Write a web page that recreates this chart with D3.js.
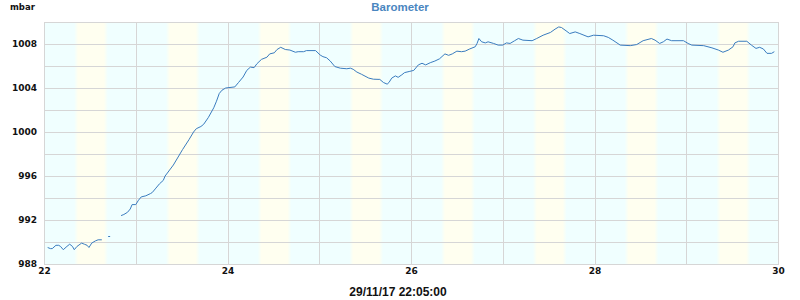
<!DOCTYPE html>
<html>
<head>
<meta charset="utf-8">
<script src="https://cdn.jsdelivr.net/npm/d3@7"></script>
<style>
  body { margin: 0; background: #fff; }
  text { font-family: "DejaVu Sans", sans-serif; }
</style>
</head>
<body>
<div id="chart"></div>
<script>
// time in days of November 2017, pressure in mbar (null = no reading)
const days = [
  22.04, 22.07, 22.09, 22.13, 22.16, 22.18, 22.21, 22.25, 22.28, 22.31, 22.33, 22.36,
  22.41, 22.44, 22.47, 22.49, 22.52, 22.56, 22.59, 22.63,
  22.67,
  22.71,
  22.78,
  22.84, 22.87, 22.91, 22.94, 22.96, 23.00, 23.03, 23.06, 23.11, 23.16, 23.18, 23.22,
  23.26, 23.30, 23.32, 23.41, 23.51, 23.58, 23.63, 23.66, 23.71, 23.74, 23.79, 23.85,
  23.88, 23.91, 23.94, 23.98, 24.08, 24.12, 24.17, 24.21, 24.25, 24.29, 24.32, 24.37,
  24.43, 24.46, 24.51, 24.54, 24.58, 24.63, 24.68, 24.74, 24.77, 24.83, 24.86, 24.96,
  25.01, 25.04, 25.08, 25.12, 25.17, 25.23, 25.30, 25.34, 25.37, 25.41, 25.46, 25.54,
  25.59, 25.66, 25.70, 25.74, 25.76, 25.79, 25.83, 25.86, 25.90, 25.93, 25.98, 26.03,
  26.08, 26.12, 26.16, 26.21, 26.26, 26.31, 26.37, 26.41, 26.45, 26.50, 26.55, 26.59,
  26.64, 26.70, 26.72, 26.74, 26.77, 26.81, 26.84, 26.90, 26.95, 27.00, 27.04, 27.08,
  27.13, 27.17, 27.22, 27.32, 27.37, 27.44, 27.52, 27.57, 27.61, 27.64, 27.69, 27.73,
  27.79, 27.84, 27.93, 27.99, 28.10, 28.15, 28.20, 28.28, 28.39, 28.46, 28.53, 28.62,
  28.66, 28.71, 28.75, 28.79, 28.84, 28.97, 29.02, 29.06, 29.19, 29.28, 29.35, 29.40,
  29.46, 29.51, 29.53, 29.57, 29.66, 29.71, 29.76, 29.80, 29.84, 29.88, 29.93, 29.96
];
const pressure = [
  989.5, 989.4, 989.4, 989.7, 989.7, 989.6, 989.3, 989.6, 989.8, 989.6, 989.3, 989.6,
  989.9, 989.8, 989.7, 989.5, 989.9, 990.1, 990.2, 990.2,
  null,
  990.5,
  null,
  992.4, 992.5, 992.7, 993.0, 993.4, 993.4, 993.8, 994.1, 994.2, 994.4, 994.5, 994.9,
  995.3, 995.6, 996.0, 997.0, 998.4, 999.3, 1000.0, 1000.3, 1000.5, 1000.7, 1001.3, 1002.2,
  1002.8, 1003.5, 1003.8, 1004.0, 1004.1, 1004.5, 1005.0, 1005.6, 1005.9, 1005.85, 1006.2, 1006.6,
  1006.8, 1007.1, 1007.2, 1007.5, 1007.7, 1007.5, 1007.45, 1007.25, 1007.3, 1007.3, 1007.4, 1007.4,
  1007.0, 1006.85, 1006.75, 1006.45, 1005.95, 1005.8, 1005.75, 1005.8, 1005.7, 1005.45, 1005.25, 1004.9,
  1004.8, 1004.78, 1004.5, 1004.35, 1004.5, 1004.9, 1005.1, 1004.97, 1005.2, 1005.4, 1005.5, 1005.6,
  1006.1, 1006.25, 1006.1, 1006.3, 1006.45, 1006.65, 1007.1, 1006.97, 1007.1, 1007.35, 1007.3, 1007.35,
  1007.55, 1007.75, 1008.05, 1008.5, 1008.2, 1008.1, 1008.2, 1008.05, 1007.9, 1007.9, 1008.1, 1008.05,
  1008.3, 1008.5, 1008.35, 1008.3, 1008.5, 1008.8, 1009.05, 1009.35, 1009.55, 1009.5, 1009.2, 1008.95,
  1009.1, 1008.95, 1008.65, 1008.8, 1008.75, 1008.6, 1008.35, 1007.9, 1007.85, 1007.95, 1008.3, 1008.5,
  1008.35, 1008.05, 1008.2, 1008.45, 1008.3, 1008.3, 1008.05, 1007.9, 1007.85, 1007.65, 1007.45, 1007.25,
  1007.45, 1007.75, 1008.1, 1008.25, 1008.25, 1007.9, 1007.6, 1007.7, 1007.55, 1007.15, 1007.15, 1007.3
];
const dayTicks = [22, 24, 26, 28, 30];
const pressureTicks = [988, 992, 996, 1000, 1004, 1008];
const sunrise = 8.4, sunset = 16.2; // hours
const title = "Barometer", unit = "mbar", stamp = "29/11/17 22:05:00";

const width = 800, height = 300;
const margin = {top: 22, right: 22, bottom: 36, left: 44};

const x = d3.scaleLinear().domain([22, 30]).range([margin.left, width - margin.right]);
const y = d3.scaleLinear().domain([988, 1010]).range([height - margin.bottom, margin.top]);

const svg = d3.select("#chart").append("svg")
    .attr("width", width)
    .attr("height", height);

// day / night shading
const grad = svg.append("defs").append("linearGradient")
    .attr("id", "daylight")
    .attr("x1", 0).attr("x2", 1).attr("y1", 0).attr("y2", 0);
const fade = 0.5;
[[0, "#f0ffff"], [sunrise - fade, "#f0ffff"], [sunrise + fade, "#fffff0"],
 [sunset - fade, "#fffff0"], [sunset + fade, "#f0ffff"], [24, "#f0ffff"]]
    .forEach(s => grad.append("stop").attr("offset", s[0] / 24).attr("stop-color", s[1]));

svg.append("g").selectAll("rect")
    .data(d3.range(22, 30))
    .enter().append("rect")
    .attr("x", d => x(d))
    .attr("y", y(1010))
    .attr("width", d => x(d + 1) - x(d))
    .attr("height", y(988) - y(1010))
    .attr("fill", "url(#daylight)");

// grid
const grid = svg.append("g").attr("stroke", "#d6d6d6").attr("stroke-width", 1);
grid.selectAll(".hg")
    .data(d3.range(988, 1011, 2))
    .enter().append("line")
    .attr("x1", x(22)).attr("x2", x(30))
    .attr("y1", d => Math.round(y(d)) + 0.5).attr("y2", d => Math.round(y(d)) + 0.5);
grid.selectAll(".vg")
    .data(d3.range(22, 31))
    .enter().append("line")
    .attr("y1", y(1010)).attr("y2", y(988))
    .attr("x1", d => Math.round(x(d)) + 0.5).attr("x2", d => Math.round(x(d)) + 0.5);

// axes
const yAxis = svg.append("g")
    .attr("transform", `translate(${margin.left - 7},0)`)
    .call(d3.axisLeft(y).tickValues(pressureTicks).tickSize(0).tickPadding(0).tickFormat(d3.format("d")));
const xAxis = svg.append("g")
    .attr("transform", `translate(0,${height - margin.bottom + 4})`)
    .call(d3.axisBottom(x).tickValues(dayTicks).tickSize(0).tickPadding(0).tickFormat(d3.format("d")));
[yAxis, xAxis].forEach(a => {
    a.select(".domain").remove();
    a.selectAll("text")
        .attr("fill", "#111")
        .style("font-family", "'DejaVu Sans', sans-serif")
        .style("font-size", "9px")
        .style("font-weight", "bold");
});
xAxis.selectAll("text").attr("dy", "0.71em");

// pressure line
const pts = days.map((d, i) => ({t: d, v: pressure[i]}));
const line = d3.line()
    .defined(d => d.v !== null)
    .x(d => x(d.t))
    .y(d => y(d.v));

svg.append("path")
    .datum(pts)
    .attr("fill", "none")
    .attr("stroke", "#3a7cbf")
    .attr("stroke-width", 1)
    .attr("d", line);

// lone readings between gaps
svg.selectAll(".lone")
    .data(pts.filter((d, i) => d.v !== null &&
        (i === 0 || pts[i - 1].v === null) && (i === pts.length - 1 || pts[i + 1].v === null)))
    .enter().append("rect")
    .attr("x", d => x(d.t) - 1)
    .attr("y", d => y(d.v) - 0.5)
    .attr("width", 2)
    .attr("height", 1)
    .attr("fill", "#3a7cbf");

// frame
svg.append("rect")
    .attr("x", x(22) + 0.5).attr("y", y(1010) + 0.5)
    .attr("width", x(30) - x(22)).attr("height", y(988) - y(1010))
    .attr("fill", "none")
    .attr("stroke", "#d6d6d6");

// labels
svg.append("text")
    .attr("x", 400).attr("y", 11)
    .attr("text-anchor", "middle")
    .style("font-family", "'Liberation Sans', Arial, sans-serif")
    .style("font-size", "11.5px")
    .style("font-weight", "bold")
    .attr("fill", "#4a86c0")
    .text(title);

svg.append("text")
    .attr("x", 10).attr("y", 9.5)
    .style("font-size", "8.5px")
    .style("font-weight", "bold")
    .attr("fill", "#111")
    .text(unit);

svg.append("text")
    .attr("x", 398).attr("y", 296)
    .attr("text-anchor", "middle")
    .style("font-family", "'Liberation Sans', Arial, sans-serif")
    .style("font-size", "12px")
    .style("font-weight", "bold")
    .attr("fill", "#111")
    .text(stamp);
</script>
</body>
</html>
